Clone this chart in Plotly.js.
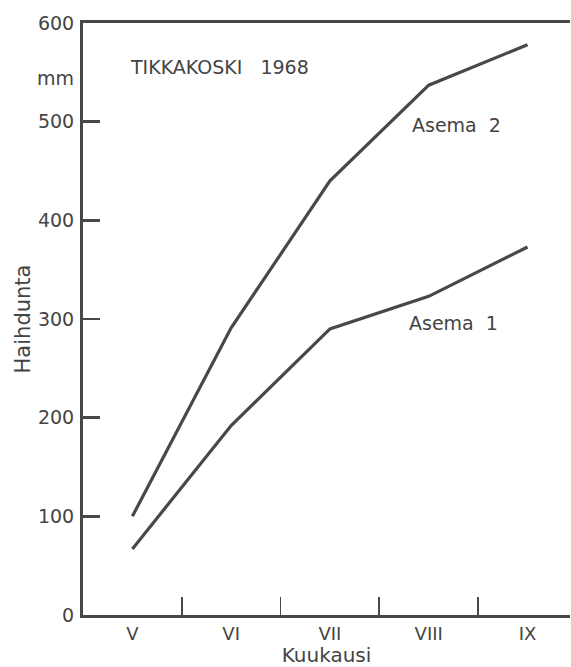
<!DOCTYPE html>
<html>
<head>
<meta charset="utf-8">
<script src="https://cdn.plot.ly/plotly-3.0.1.min.js"></script>
<style>html,body{margin:0;padding:0;background:#fff;}#chart{width:571px;height:667px;}</style>
</head>
<body>
<div id="chart"></div>
<script>
var months = ["V", "VI", "VII", "VIII", "IX"];
var asema1 = [67, 192, 290, 323, 373];
var asema2 = [100, 291, 440, 537, 578];
var yTickVals = [0, 100, 200, 300, 400, 500, 600];
var yTickText = ["0", "100", "200", "300", "400", "500", "600"];
var seriesNames = ["Asema 1", "Asema 2"];

var ink = "#484848";
var txt = "#444";
var fontFam = "DejaVu Sans, sans-serif";

var traces = [
  {x: months, y: asema1, name: seriesNames[0], mode: "lines", line: {color: ink, width: 3.2}},
  {x: months, y: asema2, name: seriesNames[1], mode: "lines", line: {color: ink, width: 3.2}}
];

var layout = {
  width: 571, height: 667,
  margin: {l: 83, r: 1, t: 23, b: 52},
  paper_bgcolor: "#fff", plot_bgcolor: "#fff",
  showlegend: false,
  font: {family: fontFam, color: txt, size: 18},
  xaxis: {
    type: "category",
    range: [-0.5, 4.43],
    tickson: "boundaries",
    ticks: "inside", ticklen: 18, tickwidth: 1.8, tickcolor: ink,
    showline: true, linecolor: ink, linewidth: 3, mirror: true,
    showgrid: false, zeroline: false,
    tickfont: {size: 18, color: txt, family: fontFam},
    title: {text: "Kuukausi", font: {size: 20, color: txt, family: fontFam}, standoff: 6}
  },
  yaxis: {
    range: [0, 600],
    tickvals: yTickVals, ticktext: yTickText,
    ticks: "inside", ticklen: 17, tickwidth: 2.5, tickcolor: ink,
    showline: true, linecolor: ink, linewidth: 3,
    showgrid: false, zeroline: false,
    tickfont: {size: 19, color: txt, family: fontFam},
    ticklabelstandoff: 2,
    title: {text: "Haihdunta", font: {size: 21, color: txt, family: fontFam}, standoff: 2}
  },
  annotations: [
    {xref: "paper", yref: "paper", x: -0.015, y: 0.907, text: "mm", showarrow: false, xanchor: "right", yanchor: "middle", font: {size: 19, color: txt, family: fontFam}},
    {xref: "x", yref: "y", x: 0, y: 555, xshift: -4, text: "TIKKAKOSKI&nbsp;&nbsp;&nbsp;1968", showarrow: false, xanchor: "left", yanchor: "middle", font: {size: 19, color: txt, family: fontFam}},
    {xref: "x", yref: "y", x: 3, y: 497, xshift: -19, text: seriesNames[1].replace(" ", "&nbsp;&nbsp;"), showarrow: false, xanchor: "left", yanchor: "middle", font: {size: 19, color: txt, family: fontFam}},
    {xref: "x", yref: "y", x: 3, y: 296, xshift: -22, text: seriesNames[0].replace(" ", "&nbsp;&nbsp;"), showarrow: false, xanchor: "left", yanchor: "middle", font: {size: 19, color: txt, family: fontFam}}
  ]
};

Plotly.newPlot("chart", traces, layout, {displayModeBar: false, staticPlot: true});
</script>
</body>
</html>
